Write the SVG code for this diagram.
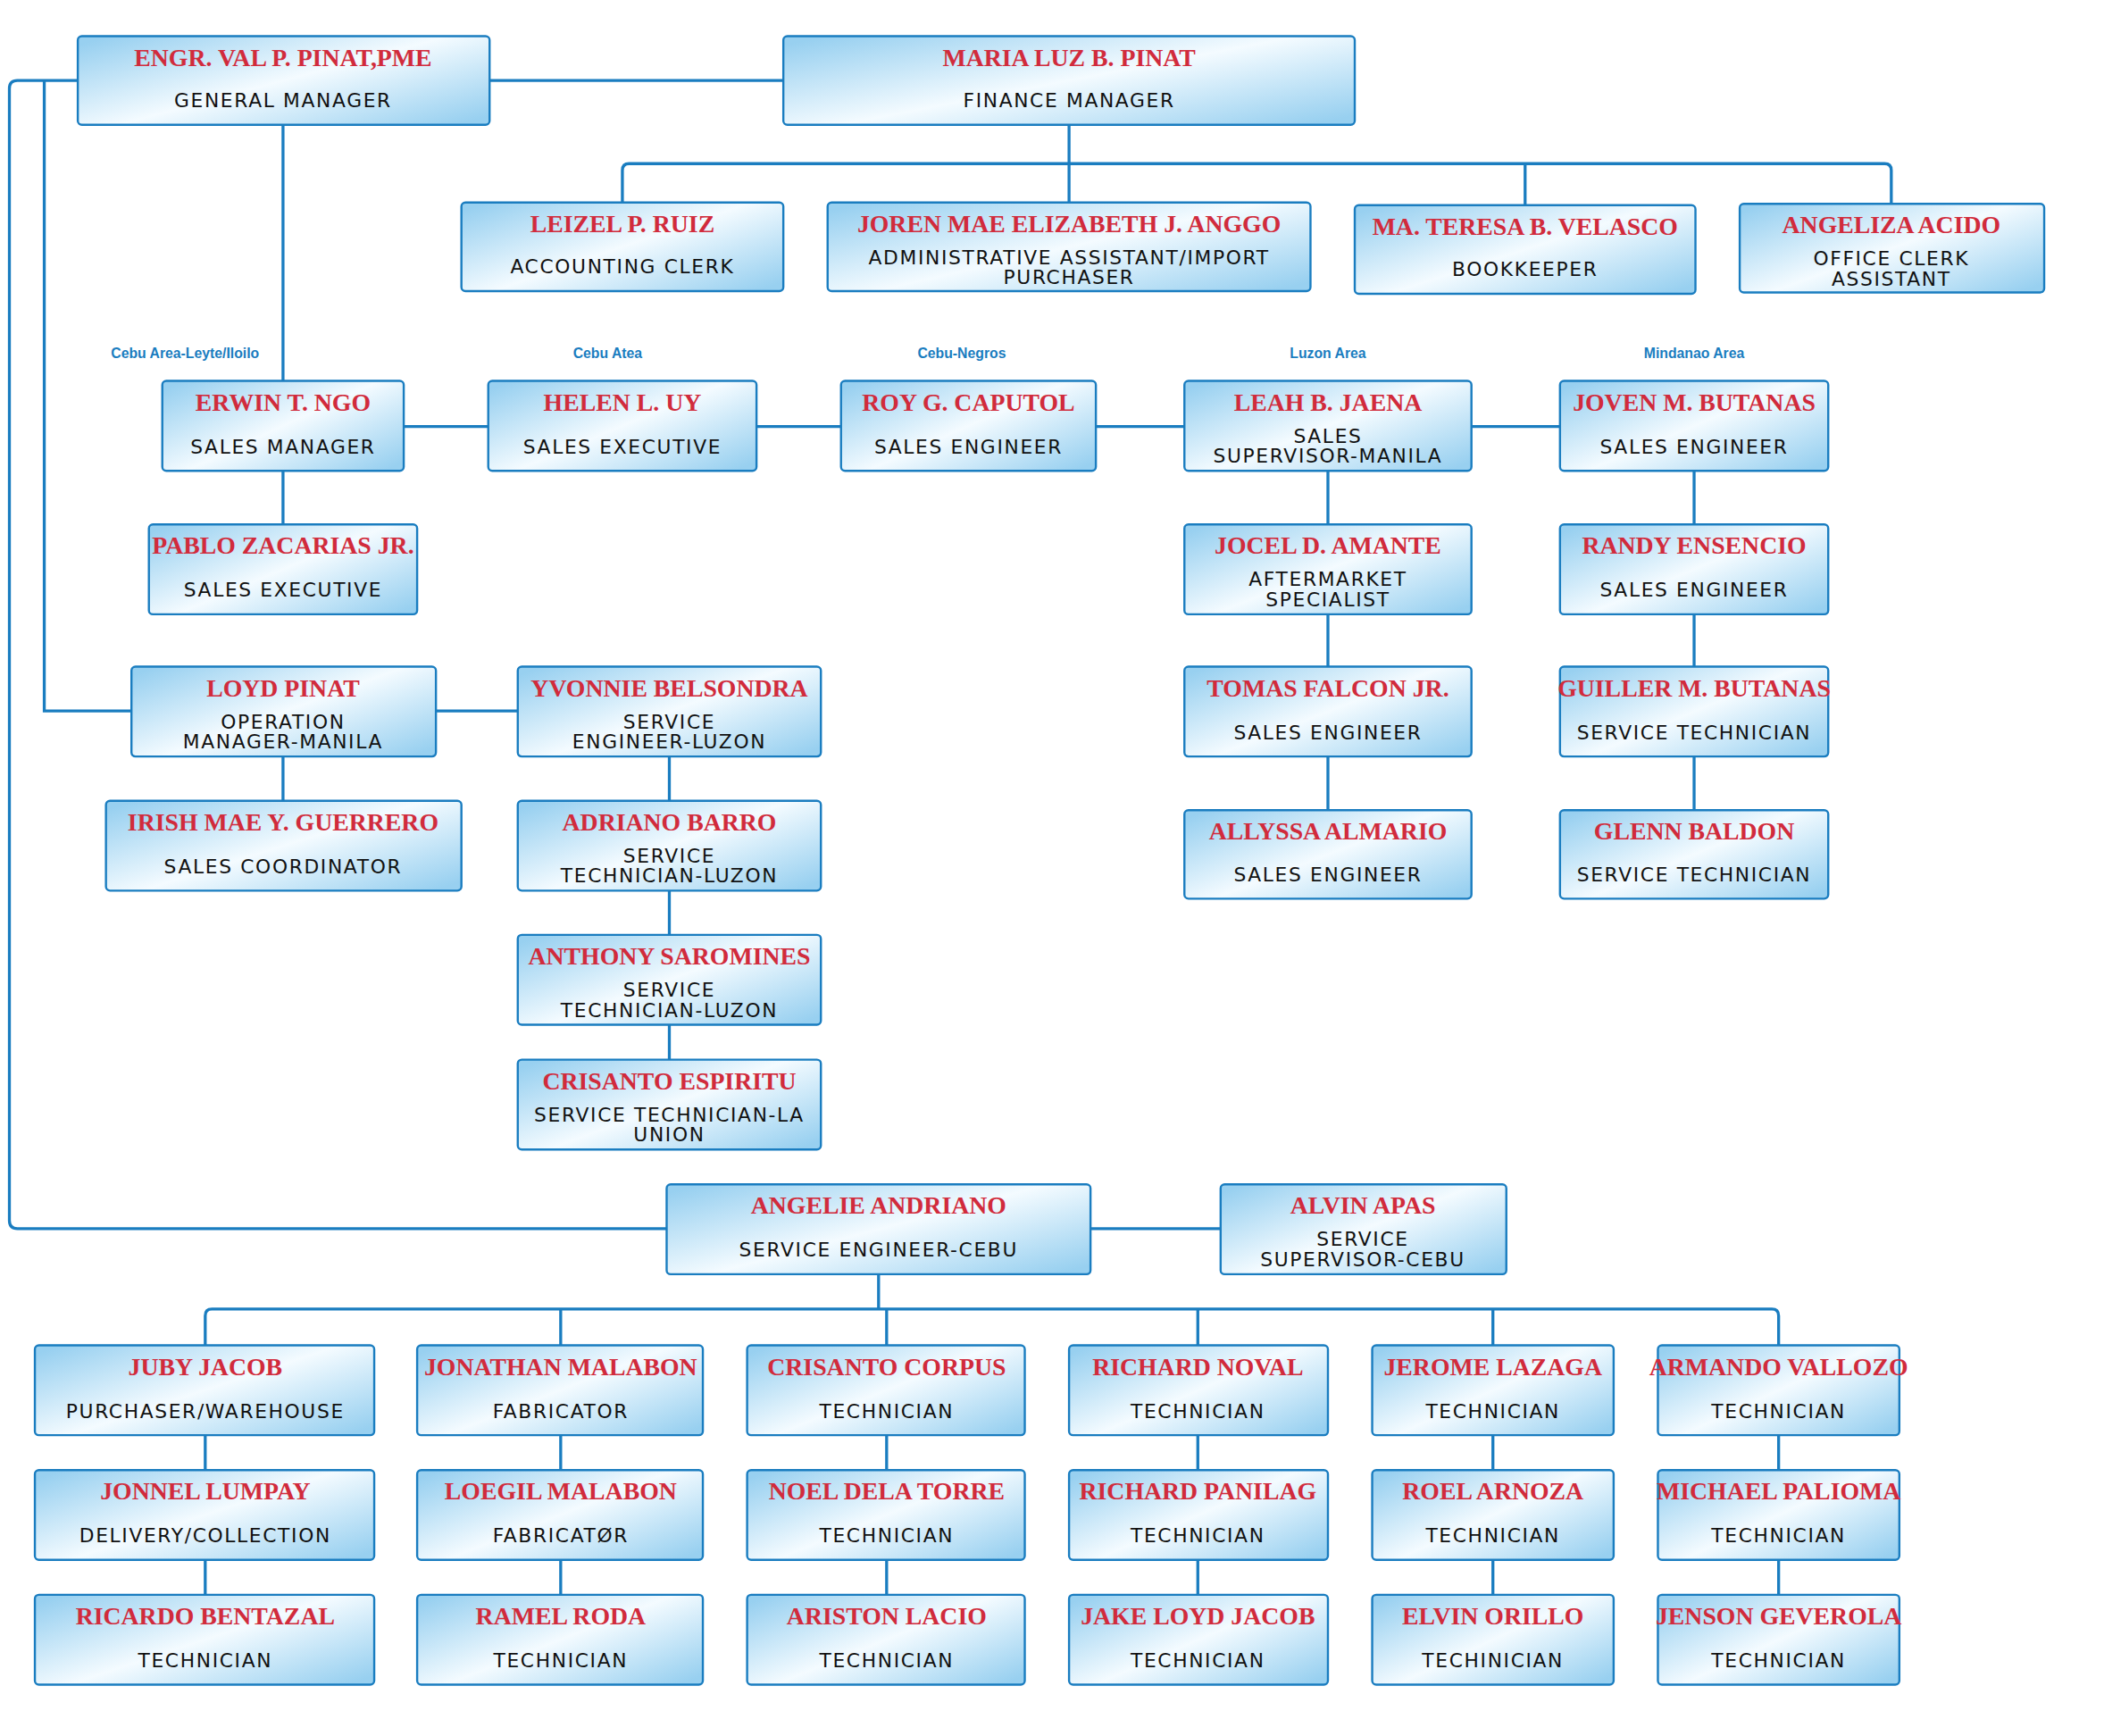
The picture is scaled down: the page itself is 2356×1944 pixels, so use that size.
<svg xmlns="http://www.w3.org/2000/svg" width="2356" height="1944" viewBox="0 0 2356 1944">
<defs>
<linearGradient id="g" x1="0" y1="0.1" x2="1" y2="0.9">
<stop offset="0" stop-color="#98d0f0"/><stop offset="0.5" stop-color="#f4fbff"/><stop offset="1" stop-color="#98d0f0"/>
</linearGradient>
<style>
.b{fill:url(#g);stroke:#1a7dc0;stroke-width:1.6}
.n{font-family:"Liberation Serif","Times New Roman",serif;font-weight:bold;font-size:18.5px;fill:#d12b3c;text-anchor:middle}
.t{font-family:"DejaVu Sans","Liberation Sans",sans-serif;font-size:14.5px;letter-spacing:1.1px;fill:#111;text-anchor:middle}
.a{font-family:"Liberation Sans",Arial,sans-serif;font-weight:bold;font-size:10.5px;fill:#1a7dc0;text-anchor:middle}
.c path{fill:none;stroke:#1a7dc0;stroke-width:2.2}
</style>
</defs>
<rect width="2356" height="1944" fill="#fff"/>
<g transform="scale(1.502)">
<g class="c" id="connectors">
<path d="M365 60H584"/>
<path d="M58 60H13Q7 60 7 66V910Q7 916 13 916H497"/>
<path d="M33 60V530H98"/>
<path d="M211 93V284"/>
<path d="M797 93V122M464 151V127Q464 122 469 122H1405Q1410 122 1410 127V152M797 122V151M1137 122V153"/>
<path d="M301 318H364M564 318H627M817 318H883M1097 318H1163"/>
<path d="M211 351V391M990 351V391M990 458V497M990 564V604M1263 351V391M1263 458V497M1263 564V604"/>
<path d="M325 530H386M211 564V597M499 564V597M499 664V697M499 764V790"/>
<path d="M813 916H910"/>
<path d="M655 950V976M153 1003V981Q153 976 158 976H1321Q1326 976 1326 981V1003M418 976V1003M661 976V1003M893 976V1003M1113 976V1003"/>
<path d="M153 1070V1096M153 1163V1189M418 1070V1096M418 1163V1189M661 1070V1096M661 1163V1189M893 1070V1096M893 1163V1189M1113 1070V1096M1113 1163V1189M1326 1070V1096M1326 1163V1189"/>
</g>
<g id="labels">
<text class="a" x="138" y="267">Cebu Area-Leyte/Iloilo</text>
<text class="a" x="453" y="267">Cebu Atea</text>
<text class="a" x="717" y="267">Cebu-Negros</text>
<text class="a" x="990" y="267">Luzon Area</text>
<text class="a" x="1263" y="267">Mindanao Area</text>
</g>
<g id="gm"><rect class="b" x="58" y="27" width="307" height="66" rx="3"/><text class="n" x="211" y="49">ENGR. VAL P. PINAT,PME</text><text class="t" x="211" y="80">GENERAL MANAGER</text></g>
<g id="fm"><rect class="b" x="584" y="27" width="426" height="66" rx="3"/><text class="n" x="797" y="49">MARIA LUZ B. PINAT</text><text class="t" x="797" y="80">FINANCE MANAGER</text></g>
<g id="leizel"><rect class="b" x="344" y="151" width="240" height="66" rx="3"/><text class="n" x="464" y="173">LEIZEL P. RUIZ</text><text class="t" x="464" y="204">ACCOUNTING CLERK</text></g>
<g id="joren"><rect class="b" x="617" y="151" width="360" height="66" rx="3"/><text class="n" x="797" y="173">JOREN MAE ELIZABETH J. ANGGO</text><text class="t" x="797" y="197">ADMINISTRATIVE ASSISTANT/IMPORT</text><text class="t" x="797" y="212">PURCHASER</text></g>
<g id="teresa"><rect class="b" x="1010" y="153" width="254" height="66" rx="3"/><text class="n" x="1137" y="175">MA. TERESA B. VELASCO</text><text class="t" x="1137" y="206">BOOKKEEPER</text></g>
<g id="angeliza"><rect class="b" x="1297" y="152" width="227" height="66" rx="3"/><text class="n" x="1410" y="174">ANGELIZA ACIDO</text><text class="t" x="1410" y="198">OFFICE CLERK</text><text class="t" x="1410" y="213">ASSISTANT</text></g>
<g id="erwin"><rect class="b" x="121" y="284" width="180" height="67" rx="3"/><text class="n" x="211" y="306">ERWIN T. NGO</text><text class="t" x="211" y="338">SALES MANAGER</text></g>
<g id="helen"><rect class="b" x="364" y="284" width="200" height="67" rx="3"/><text class="n" x="464" y="306">HELEN L. UY</text><text class="t" x="464" y="338">SALES EXECUTIVE</text></g>
<g id="roy"><rect class="b" x="627" y="284" width="190" height="67" rx="3"/><text class="n" x="722" y="306">ROY G. CAPUTOL</text><text class="t" x="722" y="338">SALES ENGINEER</text></g>
<g id="leah"><rect class="b" x="883" y="284" width="214" height="67" rx="3"/><text class="n" x="990" y="306">LEAH B. JAENA</text><text class="t" x="990" y="330">SALES</text><text class="t" x="990" y="345">SUPERVISOR-MANILA</text></g>
<g id="joven"><rect class="b" x="1163" y="284" width="200" height="67" rx="3"/><text class="n" x="1263" y="306">JOVEN M. BUTANAS</text><text class="t" x="1263" y="338">SALES ENGINEER</text></g>
<g id="pablo"><rect class="b" x="111" y="391" width="200" height="67" rx="3"/><text class="n" x="211" y="413">PABLO ZACARIAS JR.</text><text class="t" x="211" y="445">SALES EXECUTIVE</text></g>
<g id="jocel"><rect class="b" x="883" y="391" width="214" height="67" rx="3"/><text class="n" x="990" y="413">JOCEL D. AMANTE</text><text class="t" x="990" y="437">AFTERMARKET</text><text class="t" x="990" y="452">SPECIALIST</text></g>
<g id="randy"><rect class="b" x="1163" y="391" width="200" height="67" rx="3"/><text class="n" x="1263" y="413">RANDY ENSENCIO</text><text class="t" x="1263" y="445">SALES ENGINEER</text></g>
<g id="loyd"><rect class="b" x="98" y="497" width="227" height="67" rx="3"/><text class="n" x="211" y="519">LOYD PINAT</text><text class="t" x="211" y="543">OPERATION</text><text class="t" x="211" y="558">MANAGER-MANILA</text></g>
<g id="yvonnie"><rect class="b" x="386" y="497" width="226" height="67" rx="3"/><text class="n" x="499" y="519">YVONNIE BELSONDRA</text><text class="t" x="499" y="543">SERVICE</text><text class="t" x="499" y="558">ENGINEER-LUZON</text></g>
<g id="tomas"><rect class="b" x="883" y="497" width="214" height="67" rx="3"/><text class="n" x="990" y="519">TOMAS FALCON JR.</text><text class="t" x="990" y="551">SALES ENGINEER</text></g>
<g id="guiller"><rect class="b" x="1163" y="497" width="200" height="67" rx="3"/><text class="n" x="1263" y="519">GUILLER M. BUTANAS</text><text class="t" x="1263" y="551">SERVICE TECHNICIAN</text></g>
<g id="irish"><rect class="b" x="79" y="597" width="265" height="67" rx="3"/><text class="n" x="211" y="619">IRISH MAE Y. GUERRERO</text><text class="t" x="211" y="651">SALES COORDINATOR</text></g>
<g id="adriano"><rect class="b" x="386" y="597" width="226" height="67" rx="3"/><text class="n" x="499" y="619">ADRIANO BARRO</text><text class="t" x="499" y="643">SERVICE</text><text class="t" x="499" y="658">TECHNICIAN-LUZON</text></g>
<g id="allyssa"><rect class="b" x="883" y="604" width="214" height="66" rx="3"/><text class="n" x="990" y="626">ALLYSSA ALMARIO</text><text class="t" x="990" y="657">SALES ENGINEER</text></g>
<g id="glenn"><rect class="b" x="1163" y="604" width="200" height="66" rx="3"/><text class="n" x="1263" y="626">GLENN BALDON</text><text class="t" x="1263" y="657">SERVICE TECHNICIAN</text></g>
<g id="anthony"><rect class="b" x="386" y="697" width="226" height="67" rx="3"/><text class="n" x="499" y="719">ANTHONY SAROMINES</text><text class="t" x="499" y="743">SERVICE</text><text class="t" x="499" y="758">TECHNICIAN-LUZON</text></g>
<g id="crisanto-e"><rect class="b" x="386" y="790" width="226" height="67" rx="3"/><text class="n" x="499" y="812">CRISANTO ESPIRITU</text><text class="t" x="499" y="836">SERVICE TECHNICIAN-LA</text><text class="t" x="499" y="851">UNION</text></g>
<g id="angelie"><rect class="b" x="497" y="883" width="316" height="67" rx="3"/><text class="n" x="655" y="905">ANGELIE ANDRIANO</text><text class="t" x="655" y="937">SERVICE ENGINEER-CEBU</text></g>
<g id="alvin"><rect class="b" x="910" y="883" width="213" height="67" rx="3"/><text class="n" x="1016" y="905">ALVIN APAS</text><text class="t" x="1016" y="929">SERVICE</text><text class="t" x="1016" y="944">SUPERVISOR-CEBU</text></g>
<g id="juby"><rect class="b" x="26" y="1003" width="253" height="67" rx="3"/><text class="n" x="153" y="1025">JUBY JACOB</text><text class="t" x="153" y="1057">PURCHASER/WAREHOUSE</text></g>
<g id="jonathan"><rect class="b" x="311" y="1003" width="213" height="67" rx="3"/><text class="n" x="418" y="1025">JONATHAN MALABON</text><text class="t" x="418" y="1057">FABRICATOR</text></g>
<g id="corpus"><rect class="b" x="557" y="1003" width="207" height="67" rx="3"/><text class="n" x="661" y="1025">CRISANTO CORPUS</text><text class="t" x="661" y="1057">TECHNICIAN</text></g>
<g id="noval"><rect class="b" x="797" y="1003" width="193" height="67" rx="3"/><text class="n" x="893" y="1025">RICHARD NOVAL</text><text class="t" x="893" y="1057">TECHNICIAN</text></g>
<g id="jerome"><rect class="b" x="1023" y="1003" width="180" height="67" rx="3"/><text class="n" x="1113" y="1025">JEROME LAZAGA</text><text class="t" x="1113" y="1057">TECHNICIAN</text></g>
<g id="armando"><rect class="b" x="1236" y="1003" width="180" height="67" rx="3"/><text class="n" x="1326" y="1025">ARMANDO VALLOZO</text><text class="t" x="1326" y="1057">TECHNICIAN</text></g>
<g id="jonnel"><rect class="b" x="26" y="1096" width="253" height="67" rx="3"/><text class="n" x="153" y="1118">JONNEL LUMPAY</text><text class="t" x="153" y="1150">DELIVERY/COLLECTION</text></g>
<g id="loegil"><rect class="b" x="311" y="1096" width="213" height="67" rx="3"/><text class="n" x="418" y="1118">LOEGIL MALABON</text><text class="t" x="418" y="1150">FABRICATØR</text></g>
<g id="noel"><rect class="b" x="557" y="1096" width="207" height="67" rx="3"/><text class="n" x="661" y="1118">NOEL DELA TORRE</text><text class="t" x="661" y="1150">TECHNICIAN</text></g>
<g id="panilag"><rect class="b" x="797" y="1096" width="193" height="67" rx="3"/><text class="n" x="893" y="1118">RICHARD PANILAG</text><text class="t" x="893" y="1150">TECHNICIAN</text></g>
<g id="roel"><rect class="b" x="1023" y="1096" width="180" height="67" rx="3"/><text class="n" x="1113" y="1118">ROEL ARNOZA</text><text class="t" x="1113" y="1150">TECHNICIAN</text></g>
<g id="michael"><rect class="b" x="1236" y="1096" width="180" height="67" rx="3"/><text class="n" x="1326" y="1118">MICHAEL PALIOMA</text><text class="t" x="1326" y="1150">TECHNICIAN</text></g>
<g id="ricardo"><rect class="b" x="26" y="1189" width="253" height="67" rx="3"/><text class="n" x="153" y="1211">RICARDO BENTAZAL</text><text class="t" x="153" y="1243">TECHNICIAN</text></g>
<g id="ramel"><rect class="b" x="311" y="1189" width="213" height="67" rx="3"/><text class="n" x="418" y="1211">RAMEL RODA</text><text class="t" x="418" y="1243">TECHNICIAN</text></g>
<g id="ariston"><rect class="b" x="557" y="1189" width="207" height="67" rx="3"/><text class="n" x="661" y="1211">ARISTON LACIO</text><text class="t" x="661" y="1243">TECHNICIAN</text></g>
<g id="jake"><rect class="b" x="797" y="1189" width="193" height="67" rx="3"/><text class="n" x="893" y="1211">JAKE LOYD JACOB</text><text class="t" x="893" y="1243">TECHNICIAN</text></g>
<g id="elvin"><rect class="b" x="1023" y="1189" width="180" height="67" rx="3"/><text class="n" x="1113" y="1211">ELVIN ORILLO</text><text class="t" x="1113" y="1243">TECHINICIAN</text></g>
<g id="jenson"><rect class="b" x="1236" y="1189" width="180" height="67" rx="3"/><text class="n" x="1326" y="1211">JENSON GEVEROLA</text><text class="t" x="1326" y="1243">TECHNICIAN</text></g>
</g>
</svg>
